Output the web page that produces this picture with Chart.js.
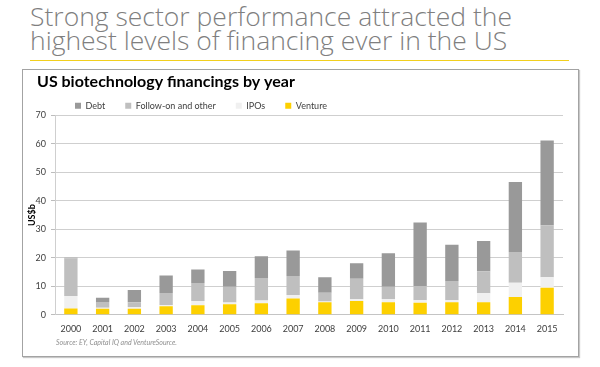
<!DOCTYPE html>
<html>
<head>
<meta charset="utf-8">
<script src="https://cdn.jsdelivr.net/npm/chart.js@4"></script>
<style>
  html, body { margin: 0; padding: 0; background: #fff; }
  body { width: 600px; height: 367px; position: relative; overflow: hidden; }
  #headline {
    position: absolute; left: 30px; top: 5px;
    font-family: 'Open Sans', sans-serif; font-weight: 300;
    font-size: 26.5px; line-height: 23.5px; color: #7f7f7f; white-space: nowrap;
  }
  #rule { position: absolute; left: 30px; top: 60px; width: 539px; height: 1px; background: #f2cf1d; }
  #frame {
    position: absolute; left: 22px; top: 69px; width: 555px; height: 286px;
    border: 1px solid #a3a3a3; box-shadow: 1px 1px 1px #c8c8c8;
  }
  #frame canvas { position: absolute; left: 0; top: 0; }
  #source {
    position: absolute; left: 56px; top: 338px;
    font-family: Lato, sans-serif; font-style: italic; font-size: 7px; color: #8f8f8f;
  }
</style>
</head>
<body>
<div id="headline">Strong sector performance attracted the<br>highest levels of financing ever in the US</div>
<div id="rule"></div>
<div id="frame"><canvas id="chart" width="555" height="286"></canvas></div>
<div id="source">Source: EY, Capital IQ and VentureSource.</div>
<script>
// US biotech financings, US$b
const years    = ['2000', '2001', '2002', '2003', '2004', '2005', '2006', '2007',
                  '2008', '2009', '2010', '2011', '2012', '2013', '2014', '2015'];
const venture  = [2.2, 2.1, 2.1, 3.0, 3.3, 3.7, 4.0, 5.7, 4.4, 4.8, 4.4, 4.2, 4.4, 4.4, 6.2, 9.5];
const ipos     = [4.4, 0.3, 0.6, 0.4, 1.5, 0.6, 1.0, 1.2, 0.2, 0.6, 1.1, 0.9, 0.7, 3.1, 5.0, 3.7];
const followOn = [13.2, 2.1, 1.7, 4.2, 6.3, 5.5, 7.9, 6.7, 3.1, 7.2, 4.3, 5.0, 6.7, 7.8, 10.8, 18.2];
const debt     = [0.2, 1.5, 4.3, 6.2, 4.8, 5.6, 7.6, 9.0, 5.5, 5.5, 11.8, 22.3, 12.8, 10.6, 24.6, 29.8];
const yTicks   = [0, 10, 20, 30, 40, 50, 60, 70];

const FONT = 'Lato, sans-serif';
const ink = '#404040';

// nudge the chart title right of the axis-title column
const titleShift = {
  id: 'titleShift',
  afterLayout(chart) {
    if (chart.titleBlock) chart.titleBlock.left += 10;
  }
};

const bar = (label, data, color) => ({
  label, data,
  backgroundColor: color,
  borderWidth: 0,
  barPercentage: 0.42,
  categoryPercentage: 1,
});

new Chart(document.getElementById('chart'), {
  type: 'bar',
  data: {
    labels: years,
    datasets: [
      bar('Venture', venture, '#fdd000'),
      bar('IPOs', ipos, '#f0f0f0'),
      bar('Follow-on and other', followOn, '#bfbfbf'),
      bar('Debt', debt, '#999999'),
    ],
  },
  options: {
    responsive: false,
    animation: false,
    layout: { padding: { left: 4, right: 15, top: 0, bottom: 0 } },
    plugins: {
      title: {
        display: true,
        text: 'US biotechnology financings by year',
        align: 'start',
        color: '#000',
        font: { family: FONT, size: 16, weight: 'bold' },
        padding: { top: 2, bottom: -10 },
      },
      legend: {
        position: 'top',
        align: 'start',
        fullSize: false,
        reverse: true,
        maxHeight: 34.3,
        labels: {
          color: ink,
          boxWidth: 6,
          boxHeight: 6,
          padding: 20,
          font: { family: FONT, size: 9 },
        },
      },
      tooltip: { enabled: false },
    },
    scales: {
      x: {
        stacked: true,
        grid: { display: false, drawTicks: false },
        border: { display: true, color: '#c4c4c4' },
        ticks: { color: ink, font: { family: FONT, size: 9 }, padding: 9, maxRotation: 0 },
        afterFit: (axis) => { axis.height = 41.3; },
      },
      y: {
        stacked: true,
        min: 0,
        max: 70,
        afterBuildTicks: (axis) => { axis.ticks = yTicks.map(v => ({ value: v })); },
        grid: { color: '#cfcfcf', tickLength: 4, tickColor: '#bdbdbd' },
        border: { display: true, color: '#cfcfcf' },
        ticks: { color: ink, font: { family: FONT, size: 9 }, padding: 5 },
        title: {
          display: true, text: 'US$b', color: '#000',
          font: { family: FONT, size: 9, weight: 'bold' }, padding: 0,
        },
        afterFit: (axis) => { axis.width = 28; },
      },
    },
  },
  plugins: [titleShift],
});
</script>
</body>
</html>
